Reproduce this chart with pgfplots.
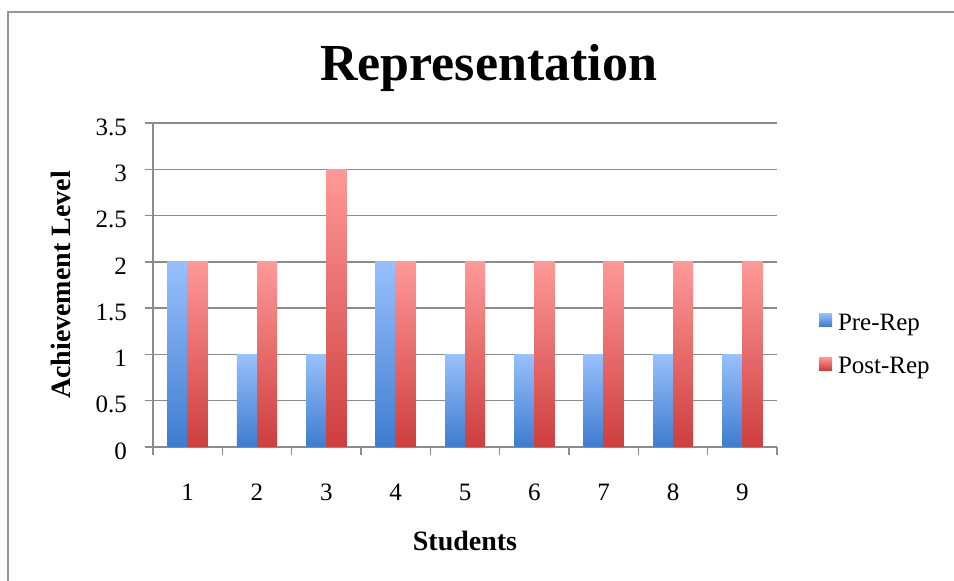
\documentclass[border=0pt]{standalone}
\usepackage{fontspec}
\setmainfont{Liberation Serif}
\usepackage{pgfplots}
\pgfplotsset{compat=1.18}
\definecolor{gridgray}{RGB}{140,140,140}
\definecolor{framegray}{RGB}{150,150,150}
\definecolor{preTop}{RGB}{152,192,252}
\definecolor{preBot}{RGB}{62,124,208}
\definecolor{postTop}{RGB}{255,152,152}
\definecolor{postBot}{RGB}{206,62,62}

% each bar is its own plot so that its gradient runs over its own height
\pgfplotsset{
  pre/.style={draw=none, top color=preTop, bottom color=preBot, bar shift=-10pt,
    legend image code/.code={\fill[top color=preTop,bottom color=preBot] (0pt,-3.5pt) rectangle (13pt,9.5pt); \path (17pt,0pt);}},
  post/.style={draw=none, top color=postTop, bottom color=postBot, bar shift=10pt,
    legend image code/.code={\fill[top color=postTop,bottom color=postBot] (0pt,-3.5pt) rectangle (13pt,9.5pt); \path (17pt,0pt);}},
}

\begin{document}
\begin{tikzpicture}[x=1pt,y=1pt]
\path[use as bounding box] (0,0) rectangle (954,581);
\draw[framegray, line width=2pt] (8,0) -- (8,569) -- (954,569);
\begin{axis}[
  at={(153pt,134pt)}, anchor=south west,
  scale only axis, width=624pt, height=324pt,
  ybar, bar width=20pt,
  xmin=-0.5, xmax=8.5, ymin=0, ymax=3.5,
  axis x line*=bottom, axis y line*=left,
  axis line style={gridgray, line width=1.5pt},
  ymajorgrids, grid style={gridgray, line width=1.5pt},
  tick align=outside, major tick length=8pt,
  tick style={gridgray, line width=1.5pt},
  ytick={0,0.5,1,1.5,2,2.5,3,3.5},
  xtick={-0.5,0.5,1.5,2.5,3.5,4.5,5.5,6.5,7.5,8.5},
  xticklabels={},
  extra x ticks={0,1,2,3,4,5,6,7,8},
  extra x tick labels={1,2,3,4,5,6,7,8,9},
  extra x tick style={major tick length=0pt, grid=none},
  /pgf/number format/assume math mode=true,
  tick label style={font=\fontsize{25}{30}\selectfont},
  xticklabel style={anchor=base, yshift=-54pt},
  yticklabel style={anchor=east, inner sep=0pt, xshift=-18pt, yshift=-4pt},
  title={Representation},
  title style={at={(0.538,1.114)}, anchor=base, font=\fontsize{52}{60}\selectfont\bfseries},
  xlabel={Students},
  xlabel style={at={(0.5,-0.318)}, anchor=base, font=\fontsize{28}{32}\selectfont\bfseries},
  ylabel={Achievement Level},
  ylabel style={at={(-0.133,0.5)}, anchor=base, rotate=0, font=\fontsize{28}{32}\selectfont\bfseries},
  legend style={at={(1.067,0.316)}, anchor=west, draw=none, fill=none,
    inner sep=0pt, row sep=22pt, font=\fontsize{25}{30}\selectfont},
  legend cell align=left,
]
% Pre-Rep
\addplot[pre] coordinates {(0,2)};
\addlegendentry{Pre-Rep}
\addplot[pre, forget plot] coordinates {(1,1)};
\addplot[pre, forget plot] coordinates {(2,1)};
\addplot[pre, forget plot] coordinates {(3,2)};
\addplot[pre, forget plot] coordinates {(4,1)};
\addplot[pre, forget plot] coordinates {(5,1)};
\addplot[pre, forget plot] coordinates {(6,1)};
\addplot[pre, forget plot] coordinates {(7,1)};
\addplot[pre, forget plot] coordinates {(8,1)};
% Post-Rep
\addplot[post] coordinates {(0,2)};
\addlegendentry{Post-Rep}
\addplot[post, forget plot] coordinates {(1,2)};
\addplot[post, forget plot] coordinates {(2,3)};
\addplot[post, forget plot] coordinates {(3,2)};
\addplot[post, forget plot] coordinates {(4,2)};
\addplot[post, forget plot] coordinates {(5,2)};
\addplot[post, forget plot] coordinates {(6,2)};
\addplot[post, forget plot] coordinates {(7,2)};
\addplot[post, forget plot] coordinates {(8,2)};
\end{axis}
\end{tikzpicture}
\end{document}
